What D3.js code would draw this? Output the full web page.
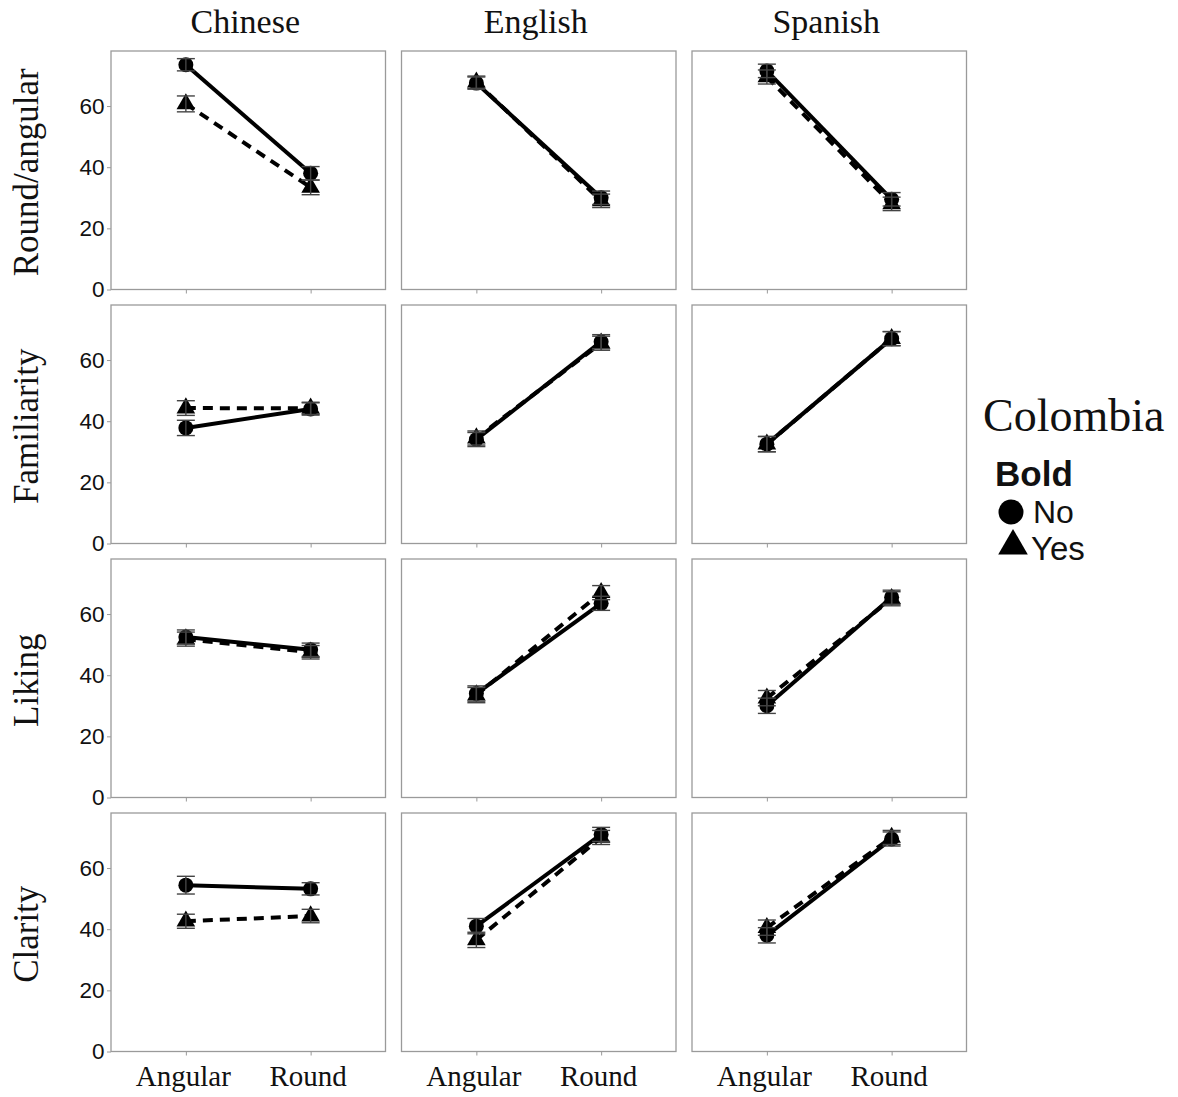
<!DOCTYPE html>
<html>
<head>
<meta charset="utf-8">
<script src="https://cdn.jsdelivr.net/npm/d3@7"></script>
<style>
  html, body { margin: 0; padding: 0; background: #fff; }
  svg { display: block; }
</style>
</head>
<body>
<div id="chart"></div>
<script>
// ---------- data ----------
const languages = ["Chinese", "English", "Spanish"];
const measures = ["Round/angular", "Familiarity", "Liking", "Clarity"];
const shapes = ["Angular", "Round"];
const boldLevels = ["No", "Yes"];
const yTicks = [0, 20, 40, 60];

// means[measure][language][shape]
const meansNo = [
  [[73.5, 38.0], [67.5, 30.0], [71.5, 29.5]],
  [[37.8, 44.0], [34.0, 66.0], [32.5, 67.0]],
  [[52.5, 48.3], [34.0, 63.5], [30.0, 65.5]],
  [[54.4, 53.2], [41.0, 71.0], [38.0, 69.5]]
];
const meansYes = [
  [[60.7, 33.4], [67.8, 29.0], [69.5, 28.0]],
  [[44.3, 44.2], [34.5, 65.5], [32.5, 67.0]],
  [[51.8, 47.5], [33.5, 67.0], [32.5, 65.0]],
  [[42.6, 44.3], [36.5, 70.0], [40.5, 70.0]]
];
// standard errors
const seNo = [
  [[2.0, 2.2], [2.0, 2.2], [2.2, 2.2]],
  [[2.5, 2.0], [2.3, 2.3], [2.5, 2.3]],
  [[2.3, 2.2], [2.5, 2.3], [2.5, 2.3]],
  [[2.9, 2.0], [2.5, 2.3], [2.5, 2.3]]
];
const seYes = [
  [[2.6, 2.4], [2.0, 2.2], [2.3, 2.2]],
  [[2.4, 2.0], [2.3, 2.3], [2.5, 2.3]],
  [[2.3, 2.2], [2.5, 2.3], [2.5, 2.3]],
  [[2.3, 2.2], [2.5, 2.3], [2.5, 2.3]]
];

// ---------- layout ----------
const W = 1178, H = 1097;
const colLeft = [111, 401.5, 692];
const panelW = 274.5;
const rowTop = [51, 305, 559, 813];
const panelH = 238.5;
const yMax = 78;

const svg = d3.select("#chart").append("svg")
  .attr("width", W).attr("height", H);

const serif = "'Liberation Serif', 'Times New Roman', serif";
const sans = "'Liberation Sans', Arial, Helvetica, sans-serif";

// emulate ggplot discrete expansion: positions at 0.6/2.2 and 1.6/2.2 of the panel width
const xPos = d3.scalePoint().domain(shapes).range([panelW * 0.6 / 2.2, panelW * 1.6 / 2.2]);
const y = d3.scaleLinear().domain([0, yMax]).range([panelH, 0]);

const line = d3.line().x(d => xPos(d.shape)).y(d => y(d.v));
const triangle = d3.symbol().type(d3.symbolTriangle).size(150);

measures.forEach((m, ri) => {
  languages.forEach((lang, ci) => {
    const g = svg.append("g").attr("transform", `translate(${colLeft[ci]},${rowTop[ri]})`);

    // panel border
    g.append("rect").attr("x", 0).attr("y", 0).attr("width", panelW).attr("height", panelH)
      .attr("fill", "#fff").attr("stroke", "#9a9a9a").attr("stroke-width", 1.3);

    // x axis ticks
    const xa = g.append("g").attr("transform", `translate(0,${panelH})`)
      .call(d3.axisBottom(xPos).tickSize(4).tickSizeOuter(0).tickFormat(ri === 3 ? d => d : ""));
    xa.select(".domain").remove();
    xa.selectAll(".tick line").attr("stroke", "#9a9a9a").attr("stroke-width", 1);
    xa.selectAll(".tick text").attr("font-family", serif).attr("font-size", 29)
      .attr("fill", "#111").attr("dy", "0.95em").attr("dx", -3);

    if (ci === 0) {
      const ya = g.append("g").call(d3.axisLeft(y).tickValues(yTicks).tickSize(4).tickSizeOuter(0));
      ya.select(".domain").remove();
      ya.selectAll(".tick line").attr("stroke", "#9a9a9a").attr("stroke-width", 1);
      ya.selectAll(".tick text").attr("font-family", sans).attr("font-size", 22.5)
        .attr("fill", "#111").attr("x", -6.5);
    }

    const groups = [
      { level: "No", means: meansNo[ri][ci], se: seNo[ri][ci], dash: null },
      { level: "Yes", means: meansYes[ri][ci], se: seYes[ri][ci], dash: "10,7" }
    ];

    // lines
    groups.forEach(gr => {
      const pts = shapes.map((s, i) => ({ shape: s, v: gr.means[i] }));
      g.append("path").datum(pts).attr("d", line)
        .attr("fill", "none").attr("stroke", "#000").attr("stroke-width", 4)
        .attr("stroke-dasharray", gr.dash);
    });

    // points
    groups.forEach(gr => {
      shapes.forEach((s, i) => {
        if (gr.level === "No") {
          g.append("circle").attr("cx", xPos(s)).attr("cy", y(gr.means[i])).attr("r", 7.5)
            .attr("fill", "#000");
        } else {
          g.append("path").attr("d", triangle())
            .attr("transform", `translate(${xPos(s)},${y(gr.means[i])})`)
            .attr("fill", "#000");
        }
      });
    });

    // error bars
    groups.forEach(gr => {
      shapes.forEach((s, i) => {
        const cx = xPos(s), lo = y(gr.means[i] - gr.se[i]), hi = y(gr.means[i] + gr.se[i]);
        const eb = g.append("g").attr("stroke", "#444").attr("stroke-width", 1.4);
        eb.append("line").attr("x1", cx).attr("x2", cx).attr("y1", lo).attr("y2", hi);
        eb.append("line").attr("x1", cx - 9).attr("x2", cx + 9).attr("y1", lo).attr("y2", lo);
        eb.append("line").attr("x1", cx - 9).attr("x2", cx + 9).attr("y1", hi).attr("y2", hi);
      });
    });

    // column titles
    if (ri === 0) {
      svg.append("text").attr("x", colLeft[ci] + panelW / 2 - 3).attr("y", 33)
        .attr("text-anchor", "middle").attr("font-family", serif).attr("font-size", 34)
        .attr("fill", "#111").text(lang);
    }
  });

  // row labels
  svg.append("text")
    .attr("transform", `translate(38,${rowTop[ri] + panelH / 2 + 2}) rotate(-90)`)
    .attr("text-anchor", "middle").attr("font-family", serif).attr("font-size", 35)
    .attr("fill", "#111").text(m);
});

// ---------- legend ----------
const lg = svg.append("g");
lg.append("text").attr("x", 983).attr("y", 431).attr("font-family", serif)
  .attr("font-size", 46).attr("fill", "#111").text("Colombia");
lg.append("text").attr("x", 995).attr("y", 486).attr("font-family", sans)
  .attr("font-size", 35).attr("font-weight", "bold").attr("fill", "#111").text("Bold");
lg.append("circle").attr("cx", 1011).attr("cy", 512).attr("r", 12.5).attr("fill", "#000");
lg.append("text").attr("x", 1033).attr("y", 523).attr("font-family", sans)
  .attr("font-size", 32).attr("fill", "#111").text(boldLevels[0]);
lg.append("path").attr("d", d3.symbol().type(d3.symbolTriangle).size(380)())
  .attr("transform", "translate(1013,546)").attr("fill", "#000");
lg.append("text").attr("x", 1031).attr("y", 560).attr("font-family", sans)
  .attr("font-size", 33).attr("fill", "#111").text(boldLevels[1]);
</script>
</body>
</html>
